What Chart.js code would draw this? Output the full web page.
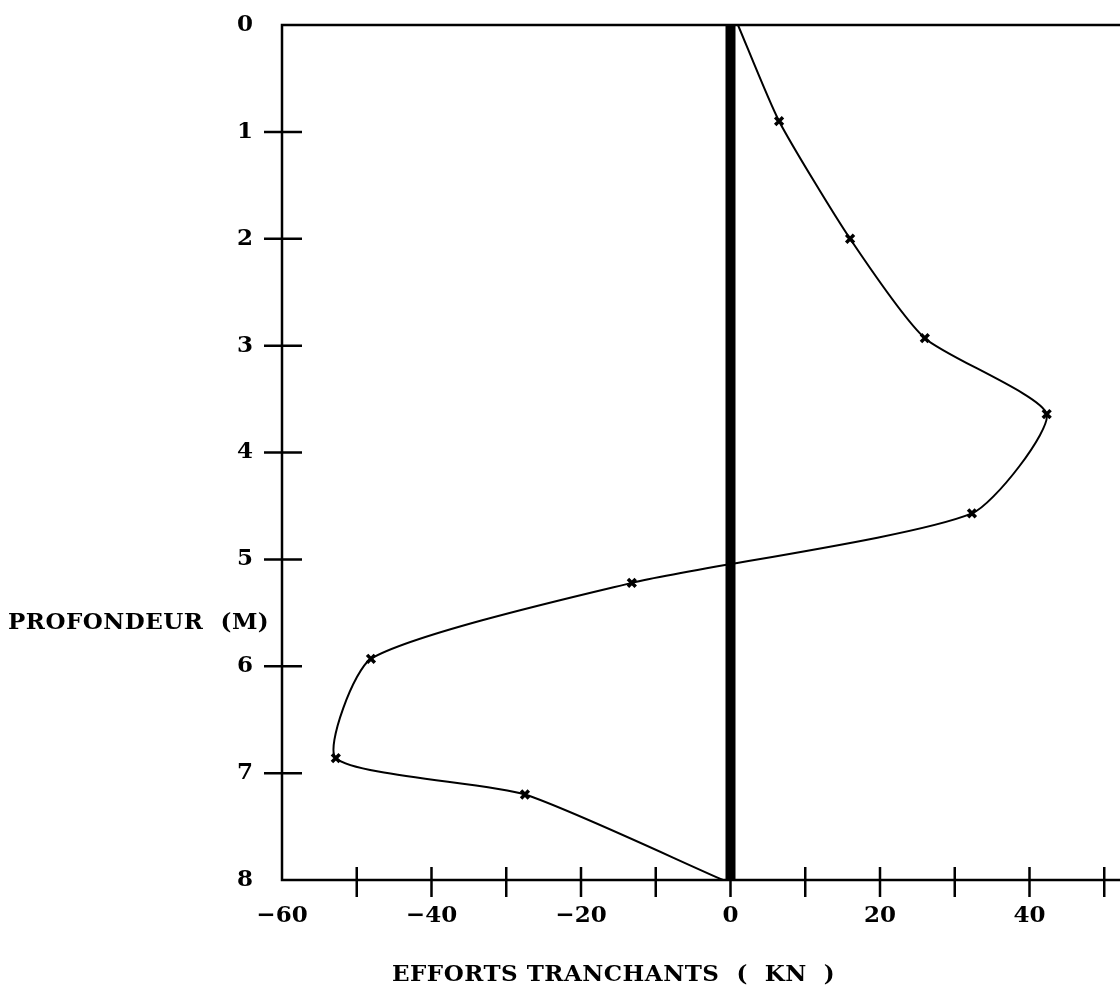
<!DOCTYPE html>
<html>
<head>
<meta charset="utf-8">
<script src="https://cdn.jsdelivr.net/npm/chart.js"></script>
<style>
  html, body { margin: 0; padding: 0; background: #fff; overflow: hidden; }
  canvas { display: block; }
</style>
</head>
<body>
<canvas id="graphique" width="1200" height="991"></canvas>
<script>
// Profondeur (m) et effort tranchant (kN)
const profondeur = [0, 0.9, 2.0, 2.93, 3.64, 4.57, 5.22, 5.93, 6.86, 7.2, 8];
const effort = [1, 6.5, 16, 26, 42.3, 32.3, -13.2, -48.1, -52.8, -27.5, -1];

// Graduations
const ticksProfondeur = [0, 1, 2, 3, 4, 5, 6, 7, 8];
const ticksEffort = [-60, -50, -40, -30, -20, -10, 0, 10, 20, 30, 40, 50, 60];
const labelsEffort = [-60, -40, -20, 0, 20, 40, 60];

const titreX = 'EFFORTS TRANCHANTS  (  KN  )';
const titreY = 'PROFONDEUR  (M)';

const police = '"DejaVu Serif", "Liberation Serif", serif';

// Cadre, petites graduations croisées et titres des axes
const cadre = {
  id: 'cadre',
  afterDraw(chart) {
    const { ctx, chartArea: a, scales: { x, y } } = chart;
    ctx.save();
    ctx.strokeStyle = '#000';
    ctx.lineWidth = 2.5;
    ctx.strokeRect(a.left, a.top, a.right - a.left, a.bottom - a.top);
    ctx.beginPath();
    ticksProfondeur.forEach(v => {
      if (v <= 0 || v >= 8) return;
      const py = y.getPixelForValue(v);
      ctx.moveTo(a.left - 18, py);
      ctx.lineTo(a.left + 20, py);
    });
    ticksEffort.forEach(v => {
      if (v <= -60) return;
      const px = x.getPixelForValue(v);
      ctx.moveTo(px, a.bottom - 13);
      ctx.lineTo(px, a.bottom + 17);
    });
    ctx.stroke();
    ctx.fillStyle = '#000';
    ctx.font = 'bold 23px ' + police;
    ctx.letterSpacing = '0.5px';
    ctx.textAlign = 'left';
    ctx.textBaseline = 'middle';
    ctx.fillText(titreY, 8, 623);
    ctx.fillText(titreX, 392, 975);
    ctx.restore();
  }
};

const ctx = document.getElementById('graphique').getContext('2d');
const graphique = new Chart(ctx, {
  type: 'line',
  data: {
    datasets: [
      {
        data: profondeur.map((p, i) => ({ x: effort[i], y: p })),
        borderColor: '#000',
        borderWidth: 2,
        tension: 0.2,
        pointStyle: 'crossRot',
        pointRadius: profondeur.map((p, i) => (i === 0 || i === profondeur.length - 1) ? 0 : 5.5),
        pointBorderWidth: 3.5,
        pointBorderColor: '#000',
        fill: false
      },
      {
        data: [{ x: 0, y: 0 }, { x: 0, y: 8 }],
        borderColor: '#000',
        borderWidth: 10,
        borderCapStyle: 'butt',
        pointRadius: 0,
        fill: false
      }
    ]
  },
  options: {
    responsive: false,
    animation: false,
    indexAxis: 'y',
    layout: { padding: { top: 25, right: 18, left: 0, bottom: 0 } },
    plugins: {
      legend: { display: false },
      tooltip: { enabled: false }
    },
    scales: {
      x: {
        type: 'linear',
        min: -60,
        max: 60,
        afterFit: s => { s.height = 111; },
        afterBuildTicks: s => { s.ticks = ticksEffort.map(v => ({ value: v })); },
        grid: { display: false, drawTicks: true, tickLength: 17 },
        border: { display: false },
        ticks: {
          padding: 5,
          color: '#000',
          font: { family: police, size: 23, weight: 'bold' },
          maxRotation: 0,
          autoSkip: false,
          callback: v => labelsEffort.includes(v) ? String(v).replace('-', '\u2212') : ''
        }
      },
      y: {
        type: 'linear',
        reverse: true,
        min: 0,
        max: 8,
        afterFit: s => { s.width = 282; },
        afterBuildTicks: s => { s.ticks = ticksProfondeur.map(v => ({ value: v })); },
        grid: { display: false, drawTicks: true, tickLength: 18 },
        border: { display: false },
        ticks: {
          padding: 11,
          color: '#000',
          font: { family: police, size: 23, weight: 'bold' },
          autoSkip: false
        }
      }
    }
  },
  plugins: [cadre]
});
</script>
</body>
</html>
